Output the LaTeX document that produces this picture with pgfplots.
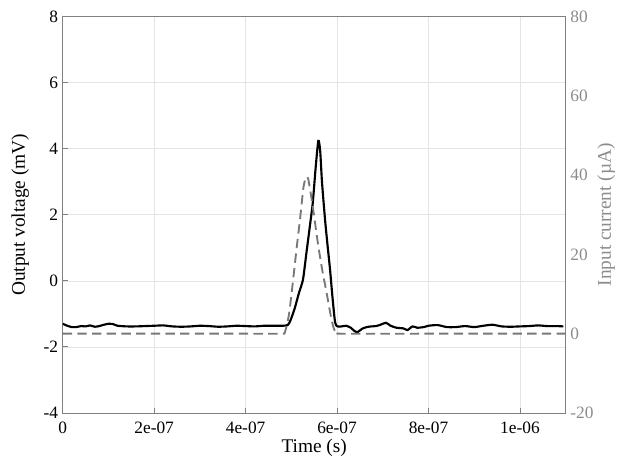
\documentclass[border=0pt]{standalone}
\usepackage{pgfplots}
\pgfplotsset{compat=1.18}
\usepackage{fontspec}
\setmainfont{Liberation Serif}
\definecolor{axgray}{RGB}{128,128,128}
\definecolor{lblgray}{RGB}{140,140,140}
\definecolor{gridgray}{RGB}{228,228,228}
\definecolor{dashgray}{RGB}{120,120,120}

\pgfplotsset{
  base/.style={
    scale only axis,
    width=377pt, height=297pt,
    xmin=0, xmax=1.1e-6,
    tick align=inside,
    major tick length=4pt,
    ticklabel style={font=\fontsize{13}{15}\selectfont},
    label style={font=\fontsize{14.5}{16}\selectfont},
  }
}

\begin{document}
\begin{tikzpicture}
  % left axis: output voltage
  \begin{axis}[
      base,
      name=main,
      ymin=-4, ymax=8,
      ytick={-4,-2,0,2,4,6,8},
      yticklabels={-4,-2,0,2,4,6,8},
      xtick={0,2e-7,4e-7,6e-7,8e-7,1e-6},
      xticklabels={0,2e-07,4e-07,6e-07,8e-07,1e-06},
      scaled x ticks=false,
      axis line style={axgray, line width=0.6pt},
      tick style={axgray, line width=0.6pt},
      grid=major,
      major grid style={gridgray, line width=0.5pt},
      xlabel={Time (s)},
      ylabel={Output voltage (mV)},
      xticklabel style={yshift=-3pt},
      xlabel style={yshift=2.5pt},
      ylabel style={yshift=4pt},
      ytick pos=left, xtick pos=bottom,
    ]
    \addplot[black, line width=1.6pt, smooth, tension=0.4] coordinates {
      (0,-1.30)(0.01e-6,-1.36)(0.02e-6,-1.40)(0.03e-6,-1.40)(0.04e-6,-1.37)
      (0.05e-6,-1.38)(0.06e-6,-1.35)(0.07e-6,-1.39)(0.08e-6,-1.37)(0.09e-6,-1.33)
      (0.10e-6,-1.30)(0.11e-6,-1.31)(0.12e-6,-1.36)(0.14e-6,-1.38)(0.16e-6,-1.38)
      (0.18e-6,-1.37)(0.20e-6,-1.36)(0.22e-6,-1.35)(0.24e-6,-1.38)(0.26e-6,-1.39)
      (0.28e-6,-1.38)(0.30e-6,-1.36)(0.32e-6,-1.37)(0.34e-6,-1.39)(0.36e-6,-1.38)
      (0.38e-6,-1.36)(0.40e-6,-1.37)(0.42e-6,-1.38)(0.44e-6,-1.36)(0.46e-6,-1.36)
      (0.48e-6,-1.36)(0.492e-6,-1.34)(0.498e-6,-1.20)(0.507e-6,-0.85)
      (0.517e-6,-0.35)(0.5255e-6,0.04)(0.533e-6,0.85)(0.540e-6,1.60)
      (0.547e-6,2.38)(0.553e-6,3.40)(0.559e-6,4.24)(0.563e-6,3.95)
      (0.567e-6,3.00)(0.5736e-6,1.87)(0.579e-6,1.10)(0.5846e-6,0.35)
      (0.590e-6,-0.50)(0.5957e-6,-1.26)(0.601e-6,-1.38)(0.61e-6,-1.38)
      (0.62e-6,-1.36)(0.63e-6,-1.42)(0.638e-6,-1.52)(0.645e-6,-1.55)
      (0.655e-6,-1.45)(0.665e-6,-1.40)(0.675e-6,-1.38)(0.685e-6,-1.37)
      (0.695e-6,-1.33)(0.707e-6,-1.27)(0.717e-6,-1.36)(0.730e-6,-1.42)
      (0.745e-6,-1.44)(0.754e-6,-1.49)(0.765e-6,-1.38)(0.775e-6,-1.42)
      (0.79e-6,-1.40)(0.80e-6,-1.36)(0.82e-6,-1.34)(0.84e-6,-1.40)
      (0.86e-6,-1.40)(0.88e-6,-1.37)(0.90e-6,-1.40)(0.92e-6,-1.36)
      (0.94e-6,-1.33)(0.96e-6,-1.38)(0.98e-6,-1.39)(1.00e-6,-1.38)
      (1.02e-6,-1.37)(1.04e-6,-1.35)(1.06e-6,-1.37)(1.08e-6,-1.37)(1.095e-6,-1.38)
    };
  \end{axis}
  % right axis: input current
  \begin{axis}[
      base,
      ymin=-20, ymax=80,
      ytick={-20,0,20,40,60,80},
      yticklabels={-20,0,20,40,60,80},
      axis x line=none,
      axis y line*=right,
      axis line style={axgray, line width=0.6pt},
      tick style={draw=none},
      yticklabel style={lblgray},
      ylabel={Input current (µA)},
      ylabel style={lblgray, yshift=4pt},
    ]
    \addplot[dashgray, line width=1.4pt, dash pattern=on 7pt off 4pt, smooth, tension=0.4] coordinates {
      (0,0)(0.20e-6,0)(0.40e-6,0)(0.478e-6,0)(0.486e-6,0.4)(0.495e-6,5)
      (0.504e-6,13.7)(0.512e-6,22)(0.519e-6,28.9)(0.526e-6,36.5)
      (0.530e-6,38.8)(0.5336e-6,39.6)(0.537e-6,39)(0.5445e-6,33.9)
      (0.550e-6,29.5)(0.559e-6,22.1)(0.568e-6,15.8)(0.577e-6,10.4)
      (0.588e-6,3.5)(0.5955e-6,0.6)(0.606e-6,0)(0.80e-6,0)(1.1e-6,0)
    };
  \end{axis}
  \pgfresetboundingbox
  \path ([shift={(-47pt,-39.75pt)}]main.south west) rectangle ([shift={(42.2pt,12.5pt)}]main.north east);
\end{tikzpicture}
\end{document}
